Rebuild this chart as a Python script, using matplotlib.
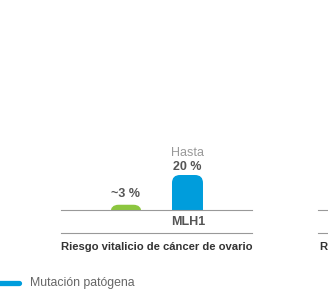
import matplotlib.pyplot as plt
from matplotlib.patches import FancyBboxPatch
from matplotlib.lines import Line2D

# data
categories = ["Población general", "Mutación patógena"]
values = [3, 20]
value_labels = ["~3 %", "20 %"]
colors = ["#8cc63f", "#009ddc"]
gene = "MLH1"
title = "Riesgo vitalicio de cáncer de ovario"
legend_label = "Mutación patógena"

W, H = 328, 296
fig = plt.figure(figsize=(W / 100, H / 100), dpi=100)

sans = ["Liberation Sans", "DejaVu Sans"]


def px_axes(x0, x1, y_base, y_top):
    return fig.add_axes([x0 / W, 1 - y_base / H, (x1 - x0) / W, (y_base - y_top) / H])


ax = px_axes(61, 252, 210, 140)
ax.set_xlim(-1.057, 2.049)
ax.set_ylim(0, 40)
for s in ["top", "right", "left"]:
    ax.spines[s].set_visible(False)
ax.spines["bottom"].set_color("#999999")
ax.spines["bottom"].set_linewidth(0.8)
ax.set_xticks([])
ax.set_yticks([])
ax.patch.set_alpha(0)

bars = ax.bar(range(len(values)), values, width=0.504, color=colors)
# rounded tops: replace each bar with a rounded box that extends below zero
for b, c in zip(bars, colors):
    b.set_visible(False)
    x, y = b.get_x(), b.get_y()
    w, h = b.get_width(), b.get_height()
    rp = FancyBboxPatch((x, y - 10), w, h + 10,
                        boxstyle="round,pad=0,rounding_size=0.13",
                        mutation_aspect=35, facecolor=c, edgecolor="none",
                        clip_on=True)
    ax.add_patch(rp)

ax.annotate(value_labels[0], (0, values[0]), xytext=(0, 8), textcoords="offset points",
            ha="center", va="center", fontsize=9, fontweight="bold", color="#555555",
            family=sans)
ax.annotate(value_labels[1], (1, values[1]), xytext=(0, 5.5), textcoords="offset points",
            ha="center", va="center", fontsize=9, fontweight="bold", color="#555555",
            family=sans)
ax.annotate("Hasta", (1, values[1]), xytext=(0, 16), textcoords="offset points",
            ha="center", va="center", fontsize=9, color="#999999", family=sans)

# gene label and second rule
fig.text(188 / W, 1 - 222 / H, gene, ha="center", va="center", fontsize=9,
         fontweight="bold", color="#555555", family=sans)
fig.add_artist(Line2D([61 / W, 252 / W], [1 - 233 / H, 1 - 233 / H],
                      color="#999999", lw=0.8))
fig.text(156.5 / W, 1 - 247 / H, title, ha="center", va="center", fontsize=8.1,
         fontweight="bold", color="#333333", family=sans)

# next panel, mostly cut off
fig.add_artist(Line2D([318 / W, 1], [1 - 210 / H, 1 - 210 / H], color="#999999", lw=0.8))
fig.add_artist(Line2D([318 / W, 1], [1 - 233 / H, 1 - 233 / H], color="#999999", lw=0.8))
fig.text(319 / W, 1 - 247 / H, "R", ha="left", va="center", fontsize=8.1,
         fontweight="bold", color="#333333", family=sans)

# legend
fig.add_artist(Line2D([-5 / W, 19 / W], [1 - 283 / H, 1 - 283 / H], color=colors[1],
                      lw=3.8, solid_capstyle="round"))
fig.text(30 / W, 1 - 283 / H, legend_label, ha="left", va="center", fontsize=8.8,
         color="#666666", family=sans)

fig.savefig("out.png", dpi=100)
